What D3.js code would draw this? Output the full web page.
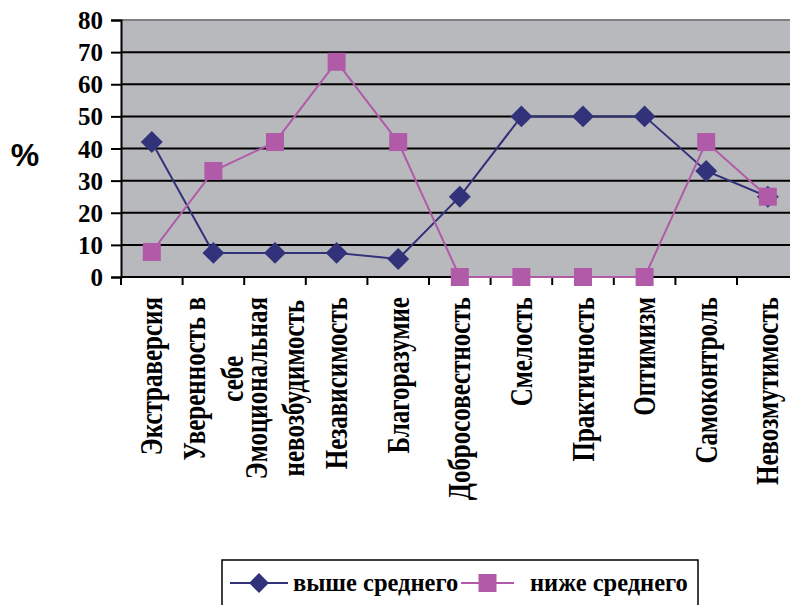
<!DOCTYPE html>
<html>
<head>
<meta charset="utf-8">
<script src="https://cdn.jsdelivr.net/npm/d3@7"></script>
<style>
  html, body { margin: 0; padding: 0; background: #fff; }
  svg { display: block; }
</style>
</head>
<body>
<svg id="chart" width="790" height="605"></svg>
<script>
// Personality traits (multi-line labels split with "\n")
const categories = [
  "Экстраверсия",
  "Уверенность в\nсебе",
  "Эмоциональная\nневозбудимость",
  "Независимость",
  "Благоразумие",
  "Добросовестность",
  "Смелость",
  "Практичность",
  "Оптимизм",
  "Самоконтроль",
  "Невозмутимость"
];
// Share of respondents, %
const aboveAverage = [42, 7.5, 7.5, 7.5, 5.6, 25, 50, 50, 50, 33, 25];
const belowAverage = [7.8, 33, 42, 67, 42, 0, 0, 0, 0, 42, 25];
const yTicks = [0, 10, 20, 30, 40, 50, 60, 70, 80];
const seriesNames = ["выше среднего", "ниже среднего"];

const svg = d3.select("#chart");
const plotLeft = 121, plotTop = 20, plotBottom = 277, step = 61.6;
const plotRight = plotLeft + step * categories.length;

const x = d3.scaleBand().domain(d3.range(categories.length)).range([plotLeft, plotRight]).padding(0);
const y = d3.scaleLinear().domain([0, 80]).range([plotBottom, plotTop]);

const blue = "#32327a", pink = "#b05aa8";
const serif = "'Liberation Serif', 'Times New Roman', serif";
const sx = 1.25; // horizontal widening of the rotated label glyphs

// plot area
svg.append("rect")
  .attr("x", plotLeft).attr("y", plotTop)
  .attr("width", plotRight - plotLeft).attr("height", plotBottom - plotTop)
  .attr("fill", "#b8b9bd");
svg.append("line")
  .attr("x1", plotLeft).attr("x2", plotRight).attr("y1", plotTop).attr("y2", plotTop)
  .attr("stroke", "#808080").attr("stroke-width", 2);

// horizontal grid
svg.append("g").selectAll("line").data(yTicks.filter(d => d > 0 && d < 80)).join("line")
  .attr("x1", plotLeft).attr("x2", plotRight)
  .attr("y1", d => y(d)).attr("y2", d => y(d))
  .attr("stroke", "#000").attr("stroke-width", 2);

// y axis
const yAxis = svg.append("g").attr("transform", `translate(${plotLeft},0)`)
  .call(d3.axisLeft(y).tickValues(yTicks).tickSize(10).tickPadding(8).tickFormat(d3.format("d")));
yAxis.select(".domain").attr("stroke", "#000").attr("stroke-width", 2);
yAxis.selectAll(".tick line").attr("stroke", "#000").attr("stroke-width", 2);
yAxis.selectAll(".tick text")
  .attr("dy", "0.34em")
  .attr("fill", "#000")
  .style("font-family", serif).style("font-weight", "bold").style("font-size", "25px");

// x axis with ticks at category boundaries
svg.append("line")
  .attr("x1", plotLeft).attr("x2", plotRight).attr("y1", plotBottom).attr("y2", plotBottom)
  .attr("stroke", "#000").attr("stroke-width", 2);
svg.append("g").selectAll("line").data(d3.range(categories.length + 1)).join("line")
  .attr("x1", i => plotLeft + i * x.bandwidth()).attr("x2", i => plotLeft + i * x.bandwidth())
  .attr("y1", plotBottom).attr("y2", plotBottom + 8)
  .attr("stroke", "#000").attr("stroke-width", 2);

// rotated category labels, top-aligned, lines centred within each label
const lineGap = 30;
const labels = svg.append("g").selectAll("g").data(categories).join("g");
labels.each(function(label, i) {
  const lines = label.split("\n");
  const g = d3.select(this);
  const cx = x(i) + x.bandwidth() / 2;
  const t = g.append("text")
    .attr("text-anchor", "middle")
    .attr("fill", "#000")
    .style("font-family", serif).style("font-weight", "bold").style("font-size", "25px");
  lines.forEach((ln, k) => {
    t.append("tspan").attr("x", 0)
      .attr("y", (k - (lines.length - 1) / 2) * lineGap)
      .attr("dy", "0.34em")
      .text(ln);
  });
  let maxLen = 0;
  t.selectAll("tspan").each(function() { maxLen = Math.max(maxLen, this.getComputedTextLength()); });
  const cy = 297 + maxLen / 2;
  t.attr("transform", `translate(${cx},${cy}) scale(${sx},1) rotate(-90)`);
});

// "%" axis title
svg.append("text")
  .attr("x", 25).attr("y", 166)
  .attr("text-anchor", "middle")
  .style("font-family", "'Liberation Sans', Arial, sans-serif")
  .style("font-weight", "bold").style("font-size", "32px")
  .text("%");

// series
const line = d3.line().x((d, i) => x(i) + x.bandwidth() / 2).y(d => y(d));
const plot = svg.append("g");
plot.append("path").datum(aboveAverage).attr("d", line)
  .attr("fill", "none").attr("stroke", blue).attr("stroke-width", 2);
plot.append("path").datum(belowAverage).attr("d", line)
  .attr("fill", "none").attr("stroke", pink).attr("stroke-width", 2);

const diamond = d3.symbol().type(d3.symbolSquare).size(15.5 * 15.5);
plot.selectAll(".above").data(aboveAverage).join("path")
  .attr("class", "above")
  .attr("d", diamond)
  .attr("transform", (d, i) => `translate(${x(i) + x.bandwidth() / 2},${y(d)}) rotate(45)`)
  .attr("fill", blue);
plot.selectAll(".below").data(belowAverage).join("rect")
  .attr("class", "below")
  .attr("x", (d, i) => x(i) + x.bandwidth() / 2 - 9)
  .attr("y", d => y(d) - 9)
  .attr("width", 18).attr("height", 18)
  .attr("fill", pink);

// legend
const lg = svg.append("g");
lg.append("rect")
  .attr("x", 222).attr("y", 560).attr("width", 476).attr("height", 60)
  .attr("fill", "#fff").attr("stroke", "#000").attr("stroke-width", 1.5);
const legendItems = [
  { name: seriesNames[0], color: blue, x0: 230, x1: 288, shape: "diamond", tx: 293 },
  { name: seriesNames[1], color: pink, x0: 461, x1: 514, shape: "square", tx: 530 }
];
legendItems.forEach(it => {
  const cyL = 583;
  lg.append("line").attr("x1", it.x0).attr("x2", it.x1).attr("y1", cyL).attr("y2", cyL)
    .attr("stroke", it.color).attr("stroke-width", 2);
  const mx = (it.x0 + it.x1) / 2;
  if (it.shape === "diamond") {
    lg.append("path").attr("d", d3.symbol().type(d3.symbolSquare).size(14 * 14))
      .attr("transform", `translate(${mx},${cyL}) rotate(45)`).attr("fill", it.color);
  } else {
    lg.append("rect").attr("x", mx - 9).attr("y", cyL - 9).attr("width", 18).attr("height", 18)
      .attr("fill", it.color);
  }
  lg.append("text")
    .attr("x", it.tx).attr("y", cyL + 8)
    .attr("fill", "#000")
    .style("font-family", serif).style("font-weight", "bold").style("font-size", "24.5px")
    .text(it.name);
});
</script>
</body>
</html>
